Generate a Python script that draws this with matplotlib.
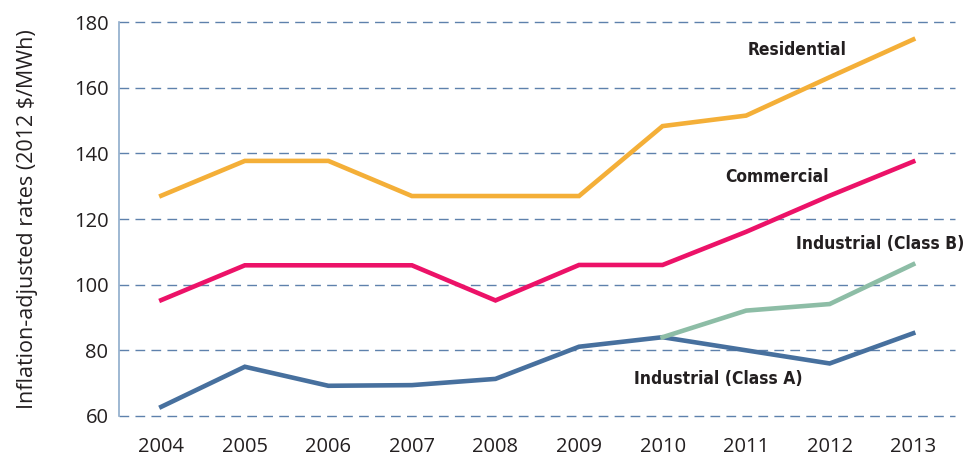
import matplotlib.pyplot as plt

# Inflation-adjusted electricity rates by customer class

years = [2004, 2005, 2006, 2007, 2008, 2009, 2010, 2011, 2012, 2013]
residential = [127.1, 137.7, 137.7, 127.0, 127.0, 127.0, 148.3, 151.5, 163.2, 174.7]
commercial = [95.3, 105.9, 105.9, 105.9, 95.2, 106.0, 106.0, 116.1, 127.1, 137.5]
industrial_a = [62.8, 75.0, 69.2, 69.4, 71.3, 81.1, 84.0, 80.0, 76.0, 85.2]
years_b = [2010, 2011, 2012, 2013]
industrial_b = [84.0, 92.1, 94.1, 106.2]

label_style = dict(ha='center', va='center', fontsize=12.5, fontweight='bold',
                   family='DejaVu Sans', fontstretch='condensed', color='#231F20')
tick_font = ['Open Sans', 'DejaVu Sans']

fig = plt.figure(figsize=(9.66, 4.59), dpi=100)
ax = fig.add_axes([0.1237, 0.0937, 0.8649, 0.8583])

ax.plot(years, residential, c='#F4AF38', lw=3.3, solid_joinstyle='miter', zorder=3)
ax.plot(years, commercial, c='#EC1268', lw=3.3, solid_joinstyle='miter', zorder=3)
ax.plot(years, industrial_a, c='#47709E', lw=3.3, solid_joinstyle='miter', zorder=3)
ax.plot(years_b, industrial_b, c='#8DBDA6', lw=3.3, solid_joinstyle='miter', zorder=4)

ax.text(2011.61, 171.5, 'Residential', **label_style)
ax.text(2011.37, 132.9, 'Commercial', **label_style)
ax.text(2012.6, 112.4, 'Industrial (Class B)', clip_on=False, **label_style)
ax.text(2010.67, 71.2, 'Industrial (Class A)', **label_style)

ax.set_xlim(2003.5, 2013.5)
ax.set_ylim(60, 180)
ax.set_xticks(years)
ax.set_yticks(range(60, 181, 20))

for s in ['top', 'right', 'bottom']:
    ax.spines[s].set_visible(False)
ax.spines['left'].set_color('#8EABCB')
ax.spines['left'].set_linewidth(1.2)

ax.yaxis.grid(True, color='#5E81AC', lw=1.0, linestyle=(0, (7, 4.5)))
for gl in ax.yaxis.get_gridlines():
    gl.set_clip_on(False)
ax.set_axisbelow(True)
ax.tick_params(axis='both', length=0, labelsize=14.5, colors='#231F20')
ax.tick_params(axis='y', pad=8)
ax.tick_params(axis='x', pad=15)
for lab in ax.get_xticklabels() + ax.get_yticklabels():
    lab.set_family(tick_font)

ax.set_ylabel('Inflation-adjusted rates (2012 $/MWh)', fontsize=15.5,
              family=tick_font, color='#231F20', labelpad=26)

plt.savefig('out.png', dpi=100)
